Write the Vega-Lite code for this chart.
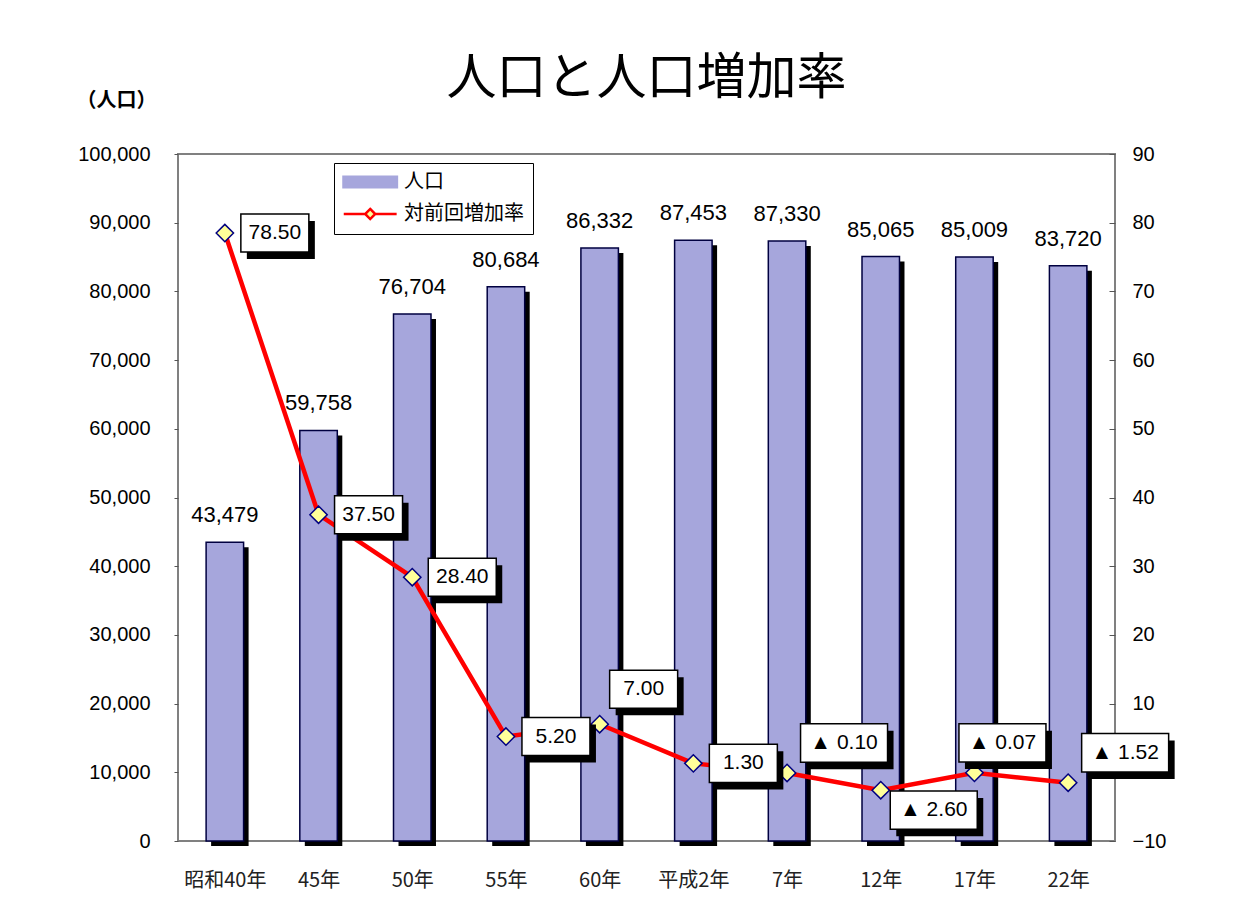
{
  "$schema": "https://vega.github.io/schema/vega-lite/v6.json",
  "width": 937,
  "height": 687,
  "autosize": {"type": "none"},
  "padding": {"left": 178, "top": 154, "right": 138, "bottom": 59},
  "background": "white",
  "title": {"text": "人口と人口増加率", "fontSize": 50, "font": "Noto Sans CJK JP", "fontWeight": "normal", "anchor": "middle", "offset": -14, "color": "black"},
  "data": {"values": [
    {"year": "昭和40年", "pop": 43479, "rate": 78.5, "label": "78.50"},
    {"year": "45年", "pop": 59758, "rate": 37.5, "label": "37.50"},
    {"year": "50年", "pop": 76704, "rate": 28.4, "label": "28.40"},
    {"year": "55年", "pop": 80684, "rate": 5.2, "label": "5.20"},
    {"year": "60年", "pop": 86332, "rate": 7.0, "label": "7.00"},
    {"year": "平成2年", "pop": 87453, "rate": 1.3, "label": "1.30"},
    {"year": "7年", "pop": 87330, "rate": -0.1, "label": "▲ 0.10"},
    {"year": "12年", "pop": 85065, "rate": -2.6, "label": "▲ 2.60"},
    {"year": "17年", "pop": 85009, "rate": -0.07, "label": "▲ 0.07"},
    {"year": "22年", "pop": 83720, "rate": -1.52, "label": "▲ 1.52"}
  ]},
  "encoding": {
    "x": {
      "field": "year", "type": "nominal", "sort": null,
      "scale": {"paddingInner": 0.6, "paddingOuter": 0.3},
      "axis": {"title": null, "labelAngle": 0, "labelFont": "Noto Sans CJK JP", "labelFontSize": 20, "labelColor": "#222", "labelPadding": 34, "tickBand": "extent", "tickSize": -5, "tickColor": "#555", "domain": false}
    }
  },
  "layer": [
    {
      "encoding": {
        "y": {
          "field": "pop", "type": "quantitative",
          "scale": {"domain": [0, 100000], "nice": false},
          "axis": {"orient": "left", "values": [0, 10000, 20000, 30000, 40000, 50000, 60000, 70000, 80000, 90000, 100000], "format": ",d", "labelFont": "Liberation Sans", "labelFontSize": 20, "labelColor": "black", "tickSize": 4, "tickColor": "#555", "labelPadding": 24, "domain": false, "grid": false,
            "title": "（人口）", "titleAngle": 0, "titleX": -62, "titleY": -54, "titleAlign": "center", "titleBaseline": "middle", "titleFont": "Noto Sans CJK JP", "titleFontSize": 20, "titleFontWeight": "bold", "titleColor": "black"}
        }
      },
      "layer": [
        {"mark": {"type": "bar", "color": "black", "xOffset": 5, "x2Offset": 5, "yOffset": 5, "y2Offset": 5}},
        {"mark": {"type": "bar", "fill": "#a6a6dc", "stroke": "#000040", "strokeWidth": 1.5}},
        {"mark": {"type": "text", "baseline": "alphabetic", "dy": -20, "font": "Liberation Sans", "fontSize": 22, "color": "black"},
          "encoding": {"text": {"field": "pop", "type": "quantitative", "format": ","}}}
      ]
    },
    {
      "encoding": {
        "y": {
          "field": "rate", "type": "quantitative",
          "scale": {"domain": [-10, 90], "nice": false},
          "axis": {"orient": "right", "values": [-10, 0, 10, 20, 30, 40, 50, 60, 70, 80, 90], "labelFont": "Liberation Sans", "labelFontSize": 20, "labelColor": "black", "tickSize": -6, "tickColor": "#555", "labelPadding": 23, "domain": false, "grid": false, "title": null}
        }
      },
      "layer": [
        {"mark": {"type": "line", "strokeWidth": 4.5},
          "encoding": {"color": {"datum": "対前回増加率", "type": "nominal", "scale": {"domain": ["人口", "対前回増加率"], "range": ["#a6a6dc", "#ff0000"]},
            "legend": {"title": null, "orient": "none", "legendX": 156, "legendY": 9, "padding": 9, "strokeColor": "black", "fillColor": "white", "labelFont": "Noto Sans CJK JP", "labelFontSize": 20, "labelColor": "black", "symbolSize": 2800, "labelOffset": 41, "rowPadding": 9,
              "encoding": {"symbols": {
                "shape": {"value": {"expr": "datum.value === '人口' ? 'M-0.35,-0.19H1.65V0.19H-0.35Z' : 'M-0.35,0H0.46M0.84,0H1.65M0.65,-0.19L0.84,0L0.65,0.19L0.46,0Z'"}},
                "size": {"value": 2800},
                "fill": {"value": {"expr": "datum.value === '人口' ? '#a6a6dc' : '#ffff99'"}},
                "stroke": {"value": {"expr": "datum.value === '人口' ? '#000000' : '#ff0000'"}},
                "strokeWidth": {"value": {"expr": "datum.value === '人口' ? 3 : 2.5"}},
                "opacity": {"value": 1}
              }}}}}},
        {"mark": {"type": "point", "shape": "diamond", "size": 300, "filled": true, "fill": "#ffff99", "stroke": "#000080", "strokeWidth": 1.5, "opacity": 1}},

        {"transform": [{"filter": {"field": "year", "oneOf": ["昭和40年", "45年", "50年", "55年", "平成2年"]}}],
          "layer": [
            {"mark": {"type": "point", "filled": true, "fill": "black", "strokeWidth": 0, "opacity": 1, "xOffset": 56, "yOffset": 7},
              "encoding": {"shape": {"condition": {"test": "datum.rate < 0", "value": "M-1,-0.44H1V0.44H-1Z"}, "value": "M-1,-0.56H1V0.56H-1Z"}, "size": {"condition": {"test": "datum.rate < 0", "value": 7569}, "value": 4624}}},
            {"mark": {"type": "point", "filled": true, "fill": "white", "stroke": "black", "strokeWidth": 1.5, "opacity": 1, "xOffset": 50, "yOffset": 0},
              "encoding": {"shape": {"condition": {"test": "datum.rate < 0", "value": "M-1,-0.44H1V0.44H-1Z"}, "value": "M-1,-0.56H1V0.56H-1Z"}, "size": {"condition": {"test": "datum.rate < 0", "value": 7569}, "value": 4624}}},
            {"mark": {"type": "text", "dx": 50, "dy": 0, "baseline": "middle", "font": "Liberation Sans", "fontSize": 21, "color": "black"},
              "encoding": {"text": {"field": "label"}}}
          ]},

        {"transform": [{"filter": {"field": "year", "oneOf": ["7年", "22年"]}}],
          "layer": [
            {"mark": {"type": "point", "filled": true, "fill": "black", "strokeWidth": 0, "opacity": 1, "xOffset": 63, "yOffset": -23},
              "encoding": {"shape": {"condition": {"test": "datum.rate < 0", "value": "M-1,-0.44H1V0.44H-1Z"}, "value": "M-1,-0.56H1V0.56H-1Z"}, "size": {"condition": {"test": "datum.rate < 0", "value": 7569}, "value": 4624}}},
            {"mark": {"type": "point", "filled": true, "fill": "white", "stroke": "black", "strokeWidth": 1.5, "opacity": 1, "xOffset": 57, "yOffset": -30},
              "encoding": {"shape": {"condition": {"test": "datum.rate < 0", "value": "M-1,-0.44H1V0.44H-1Z"}, "value": "M-1,-0.56H1V0.56H-1Z"}, "size": {"condition": {"test": "datum.rate < 0", "value": 7569}, "value": 4624}}},
            {"mark": {"type": "text", "dx": 57, "dy": -30, "baseline": "middle", "font": "Liberation Sans", "fontSize": 21, "color": "black"},
              "encoding": {"text": {"field": "label"}}}
          ]},

        {"transform": [{"filter": {"field": "year", "oneOf": ["60年"]}}],
          "layer": [
            {"mark": {"type": "point", "filled": true, "fill": "black", "strokeWidth": 0, "opacity": 1, "xOffset": 50, "yOffset": -28},
              "encoding": {"shape": {"condition": {"test": "datum.rate < 0", "value": "M-1,-0.44H1V0.44H-1Z"}, "value": "M-1,-0.56H1V0.56H-1Z"}, "size": {"condition": {"test": "datum.rate < 0", "value": 7569}, "value": 4624}}},
            {"mark": {"type": "point", "filled": true, "fill": "white", "stroke": "black", "strokeWidth": 1.5, "opacity": 1, "xOffset": 44, "yOffset": -35},
              "encoding": {"shape": {"condition": {"test": "datum.rate < 0", "value": "M-1,-0.44H1V0.44H-1Z"}, "value": "M-1,-0.56H1V0.56H-1Z"}, "size": {"condition": {"test": "datum.rate < 0", "value": 7569}, "value": 4624}}},
            {"mark": {"type": "text", "dx": 44, "dy": -35, "baseline": "middle", "font": "Liberation Sans", "fontSize": 21, "color": "black"},
              "encoding": {"text": {"field": "label"}}}
          ]},

        {"transform": [{"filter": {"field": "year", "oneOf": ["17年"]}}],
          "layer": [
            {"mark": {"type": "point", "filled": true, "fill": "black", "strokeWidth": 0, "opacity": 1, "xOffset": 34, "yOffset": -23},
              "encoding": {"shape": {"condition": {"test": "datum.rate < 0", "value": "M-1,-0.44H1V0.44H-1Z"}, "value": "M-1,-0.56H1V0.56H-1Z"}, "size": {"condition": {"test": "datum.rate < 0", "value": 7569}, "value": 4624}}},
            {"mark": {"type": "point", "filled": true, "fill": "white", "stroke": "black", "strokeWidth": 1.5, "opacity": 1, "xOffset": 28, "yOffset": -30},
              "encoding": {"shape": {"condition": {"test": "datum.rate < 0", "value": "M-1,-0.44H1V0.44H-1Z"}, "value": "M-1,-0.56H1V0.56H-1Z"}, "size": {"condition": {"test": "datum.rate < 0", "value": 7569}, "value": 4624}}},
            {"mark": {"type": "text", "dx": 28, "dy": -30, "baseline": "middle", "font": "Liberation Sans", "fontSize": 21, "color": "black"},
              "encoding": {"text": {"field": "label"}}}
          ]},

        {"transform": [{"filter": {"field": "year", "oneOf": ["12年"]}}],
          "layer": [
            {"mark": {"type": "point", "filled": true, "fill": "black", "strokeWidth": 0, "opacity": 1, "xOffset": 59, "yOffset": 27},
              "encoding": {"shape": {"condition": {"test": "datum.rate < 0", "value": "M-1,-0.44H1V0.44H-1Z"}, "value": "M-1,-0.56H1V0.56H-1Z"}, "size": {"condition": {"test": "datum.rate < 0", "value": 7569}, "value": 4624}}},
            {"mark": {"type": "point", "filled": true, "fill": "white", "stroke": "black", "strokeWidth": 1.5, "opacity": 1, "xOffset": 53, "yOffset": 20},
              "encoding": {"shape": {"condition": {"test": "datum.rate < 0", "value": "M-1,-0.44H1V0.44H-1Z"}, "value": "M-1,-0.56H1V0.56H-1Z"}, "size": {"condition": {"test": "datum.rate < 0", "value": 7569}, "value": 4624}}},
            {"mark": {"type": "text", "dx": 53, "dy": 20, "baseline": "middle", "font": "Liberation Sans", "fontSize": 21, "color": "black"},
              "encoding": {"text": {"field": "label"}}}
          ]}
      ]
    }
  ],
  "resolve": {"scale": {"y": "independent"}},
  "config": {
    "view": {"stroke": "#808080", "strokeWidth": 2},
    "axis": {"grid": false}
  }
}
